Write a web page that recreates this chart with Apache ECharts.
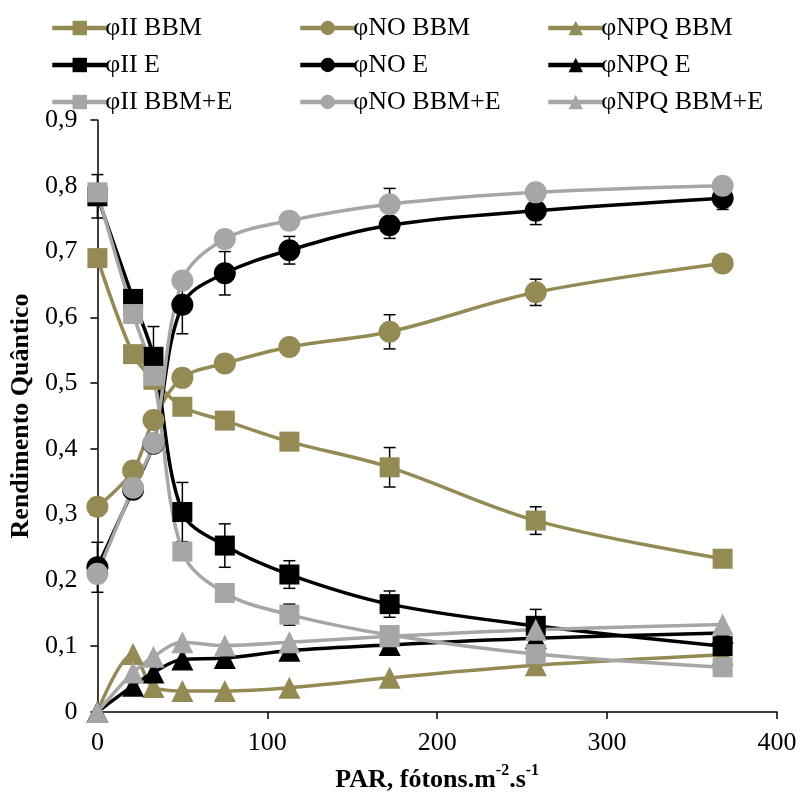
<!DOCTYPE html>
<html>
<head>
<meta charset="utf-8">
<script src="https://cdn.jsdelivr.net/npm/echarts@6/dist/echarts.min.js"></script>
<style>html,body{margin:0;padding:0;background:#fff}#c{width:803px;height:798px}</style>
</head>
<body>
<div id="c"></div>
<script>
// PAR values (x)
var par = [0, 21, 33, 50, 75, 113, 172, 258, 368];
// Series values
var phiII_BBM   = [0.690, 0.544, 0.505, 0.464, 0.443, 0.411, 0.372, 0.291, 0.233];
var phiNO_BBM   = [0.312, 0.367, 0.444, 0.508, 0.530, 0.555, 0.578, 0.638, 0.682];
var phiNPQ_BBM  = [0.000, 0.088, 0.038, 0.032, 0.032, 0.037, 0.052, 0.071, 0.087];
var phiII_E     = [0.784, 0.628, 0.540, 0.304, 0.253, 0.209, 0.164, 0.131, 0.100];
var phiNO_E     = [0.220, 0.338, 0.408, 0.619, 0.667, 0.702, 0.740, 0.762, 0.781];
var phiNPQ_E    = [0.000, 0.040, 0.060, 0.080, 0.082, 0.093, 0.102, 0.112, 0.120];
var phiII_BBME  = [0.790, 0.605, 0.511, 0.244, 0.181, 0.148, 0.117, 0.088, 0.068];
var phiNO_BBME  = [0.210, 0.341, 0.409, 0.656, 0.719, 0.747, 0.772, 0.790, 0.800];
var phiNPQ_BBME = [0.000, 0.060, 0.084, 0.106, 0.101, 0.106, 0.115, 0.125, 0.133];
// Error bar half-widths (0 = none drawn)
var err_phiII_BBM  = [0, 0, 0, 0, 0, 0, 0.030, 0.021, 0];
var err_phiNO_BBM  = [0, 0, 0, 0, 0, 0, 0.026, 0.020, 0];
var err_phiII_E    = [0.033, 0, 0.046, 0.045, 0.033, 0.021, 0.020, 0.025, 0];
var err_phiNO_E    = [0.038, 0, 0, 0.044, 0.033, 0.021, 0.020, 0.021, 0.017];
var err_phiII_BBME = [0, 0, 0, 0, 0, 0.016, 0, 0, 0];
var err_phiNO_BBME = [0, 0, 0, 0, 0, 0, 0.024, 0, 0];
// Tick labels
var yTickLabels = ['0', '0,1', '0,2', '0,3', '0,4', '0,5', '0,6', '0,7', '0,8', '0,9'];

var OLIVE = '#948A54', BLACK = '#000000', GREY = '#A6A6A6';
var FONT = '"Liberation Serif", "Times New Roman", serif';

function pairs(vals) { return par.map(function (x, i) { return [x, vals[i]]; }); }

var defs = [
  {name: 'φII BBM', v: phiII_BBM, c: OLIVE, s: 'rect', size: 20},
  {name: 'φNO BBM', v: phiNO_BBM, c: OLIVE, s: 'circle', size: 22},
  {name: 'φNPQ BBM', v: phiNPQ_BBM, c: OLIVE, s: 'triangle', size: 22},
  {name: 'φII E', v: phiII_E, c: BLACK, s: 'rect', size: 20},
  {name: 'φNO E', v: phiNO_E, c: BLACK, s: 'circle', size: 22},
  {name: 'φNPQ E', v: phiNPQ_E, c: BLACK, s: 'triangle', size: 22},
  {name: 'φII BBM+E', v: phiII_BBME, c: GREY, s: 'rect', size: 20},
  {name: 'φNO BBM+E', v: phiNO_BBME, c: GREY, s: 'circle', size: 22},
  {name: 'φNPQ BBM+E', v: phiNPQ_BBME, c: GREY, s: 'triangle', size: 22}
];

var errData = [];
[[phiII_BBM, err_phiII_BBM], [phiNO_BBM, err_phiNO_BBM], [phiII_E, err_phiII_E],
 [phiNO_E, err_phiNO_E], [phiII_BBME, err_phiII_BBME], [phiNO_BBME, err_phiNO_BBME]].forEach(function (p) {
  par.forEach(function (x, i) { if (p[1][i] > 0) errData.push([x, p[0][i], p[1][i]]); });
});

var series = [{
  type: 'custom',
  z: 1,
  silent: true,
  data: errData,
  encode: {x: 0, y: 1},
  renderItem: function (params, api) {
    var x = api.value(0), y = api.value(1), e = api.value(2);
    var top = api.coord([x, y + e]), bot = api.coord([x, y - e]);
    var hw = 6;
    var st = {stroke: '#000', lineWidth: 1.5};
    return {type: 'group', children: [
      {type: 'line', shape: {x1: top[0], y1: top[1], x2: bot[0], y2: bot[1]}, style: st},
      {type: 'line', shape: {x1: top[0] - hw, y1: top[1], x2: top[0] + hw, y2: top[1]}, style: st},
      {type: 'line', shape: {x1: bot[0] - hw, y1: bot[1], x2: bot[0] + hw, y2: bot[1]}, style: st}
    ]};
  }
}];
defs.forEach(function (d) {
  series.push({
    name: d.name, type: 'line', data: pairs(d.v), smooth: 0.35,
    symbol: d.s, symbolSize: d.size, showAllSymbol: true,
    itemStyle: {color: d.c, opacity: 1},
    lineStyle: {color: d.c, width: 3.5},
    z: 2
  });
});

function legendCol(left, names) {
  return {
    orient: 'vertical', left: left, top: 9, itemGap: 9,
    itemWidth: 55, itemHeight: 18, data: names,
    lineStyle: {width: 4.5},
    textStyle: {fontFamily: FONT, fontSize: 26, color: '#000', lineHeight: 28, padding: [0, 0, 0, -7]},
    selectedMode: false
  };
}

var chart = echarts.init(document.getElementById('c'));
chart.setOption({
  animation: false,
  backgroundColor: '#fff',
  grid: {left: 96, right: 26, top: 120, bottom: 84},
  legend: [
    legendCol(45, ['φII BBM', 'φII E', 'φII BBM+E']),
    legendCol(293, ['φNO BBM', 'φNO E', 'φNO BBM+E']),
    legendCol(541, ['φNPQ BBM', 'φNPQ E', 'φNPQ BBM+E'])
  ],
  xAxis: {
    type: 'value', min: 0, max: 400, interval: 100,
    axisLine: {show: true, lineStyle: {color: '#000', width: 1.5}},
    axisTick: {show: true, inside: false, length: 7, lineStyle: {color: '#000', width: 1.5}},
    splitLine: {show: false},
    axisLabel: {fontFamily: FONT, fontSize: 26, color: '#000', margin: 18},
    name: '{a|PAR, fótons.m}{s|-2}{a|.s}{s|-1}',
    nameLocation: 'middle', nameGap: 51,
    nameTextStyle: {
      rich: {
        a: {fontFamily: FONT, fontSize: 26, fontWeight: 'bold', color: '#000', lineHeight: 30, verticalAlign: 'bottom'},
        s: {fontFamily: FONT, fontSize: 16, fontWeight: 'bold', color: '#000', lineHeight: 16, verticalAlign: 'top'}
      }
    }
  },
  yAxis: {
    type: 'value', min: 0, max: 0.9, interval: 0.1,
    axisLine: {show: true, lineStyle: {color: '#000', width: 1.5}},
    axisTick: {show: true, inside: false, length: 7, lineStyle: {color: '#000', width: 1.5}},
    splitLine: {show: false},
    axisLabel: {
      fontFamily: FONT, fontSize: 26, color: '#000', margin: 20,
      formatter: function (v) { return yTickLabels[Math.round(v * 10)]; }
    },
    name: 'Rendimento Quântico', nameLocation: 'middle', nameGap: 61,
    nameTextStyle: {fontFamily: FONT, fontSize: 26, fontWeight: 'bold', color: '#000'}
  },
  series: series
});
</script>
</body>
</html>
